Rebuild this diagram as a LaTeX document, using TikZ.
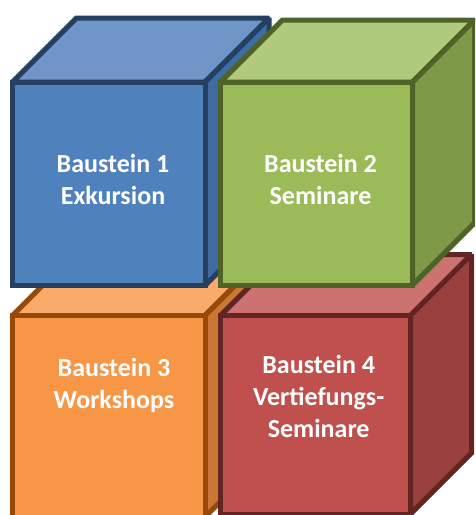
\documentclass[tikz,border=0pt]{standalone}
\usepackage{fontspec}
\setmainfont{Carlito}
\definecolor{blueF}{HTML}{4F81BD}
\definecolor{blueT}{HTML}{7096C8}
\definecolor{blueS}{HTML}{3E6BA1}
\definecolor{blueB}{HTML}{243F60}
\definecolor{greenF}{HTML}{9BBB59}
\definecolor{greenT}{HTML}{AECA7A}
\definecolor{greenS}{HTML}{7E9A48}
\definecolor{greenB}{HTML}{4F6228}
\definecolor{orangeF}{HTML}{F79646}
\definecolor{orangeT}{HTML}{F9AB6B}
\definecolor{orangeS}{HTML}{C87834}
\definecolor{orangeB}{HTML}{984807}
\definecolor{redF}{HTML}{C0504D}
\definecolor{redT}{HTML}{CC7270}
\definecolor{redS}{HTML}{9A403E}
\definecolor{redB}{HTML}{632523}
\newcommand\mycube[6]{%
  \filldraw[cubeline, fill=#6T, draw=#6B] (#1,#2) -- ({#1+#5},{#2-#5}) -- ({#3+#5},{#2-#5}) -- (#3,#2) -- cycle;
  \filldraw[cubeline, fill=#6S, draw=#6B] (#3,#2) -- ({#3+#5},{#2-#5}) -- ({#3+#5},{#4-#5}) -- (#3,#4) -- cycle;
  \filldraw[cubeline, fill=#6F, draw=#6B] (#1,#2) rectangle (#3,#4);
}
\begin{document}
\begin{tikzpicture}[x=1pt,y=-1pt,
  cubeline/.style={line width=5pt, line join=miter, miter limit=1.5},
  label/.style={text=white, font=\fontsize{26}{32}\selectfont\bfseries, align=center, inner sep=0pt}]
\useasboundingbox (0,0) rectangle (475,515);
\clip (0,0) rectangle (475,515);
\mycube{12.5}{315.5}{205}{517}{63}{orange}
\mycube{220.5}{315.5}{410.5}{514}{61}{red}
\mycube{12.5}{82}{205}{285.5}{64}{blue}
\mycube{220.5}{82}{412.5}{285}{62}{green}
\node[label] (b1) at (113,179.5) {Baustein 1\\Exkursion};
\node[label] (b2) at (320.5,179.5) {Baustein 2\\Seminare};
\node[label] (b3) at (114,385) {Baustein 3\\Workshops};
\node[label] (b4) at (318.7,396.5) {Baustein 4\\Vertiefungs-\\Seminare};
\end{tikzpicture}
\end{document}
